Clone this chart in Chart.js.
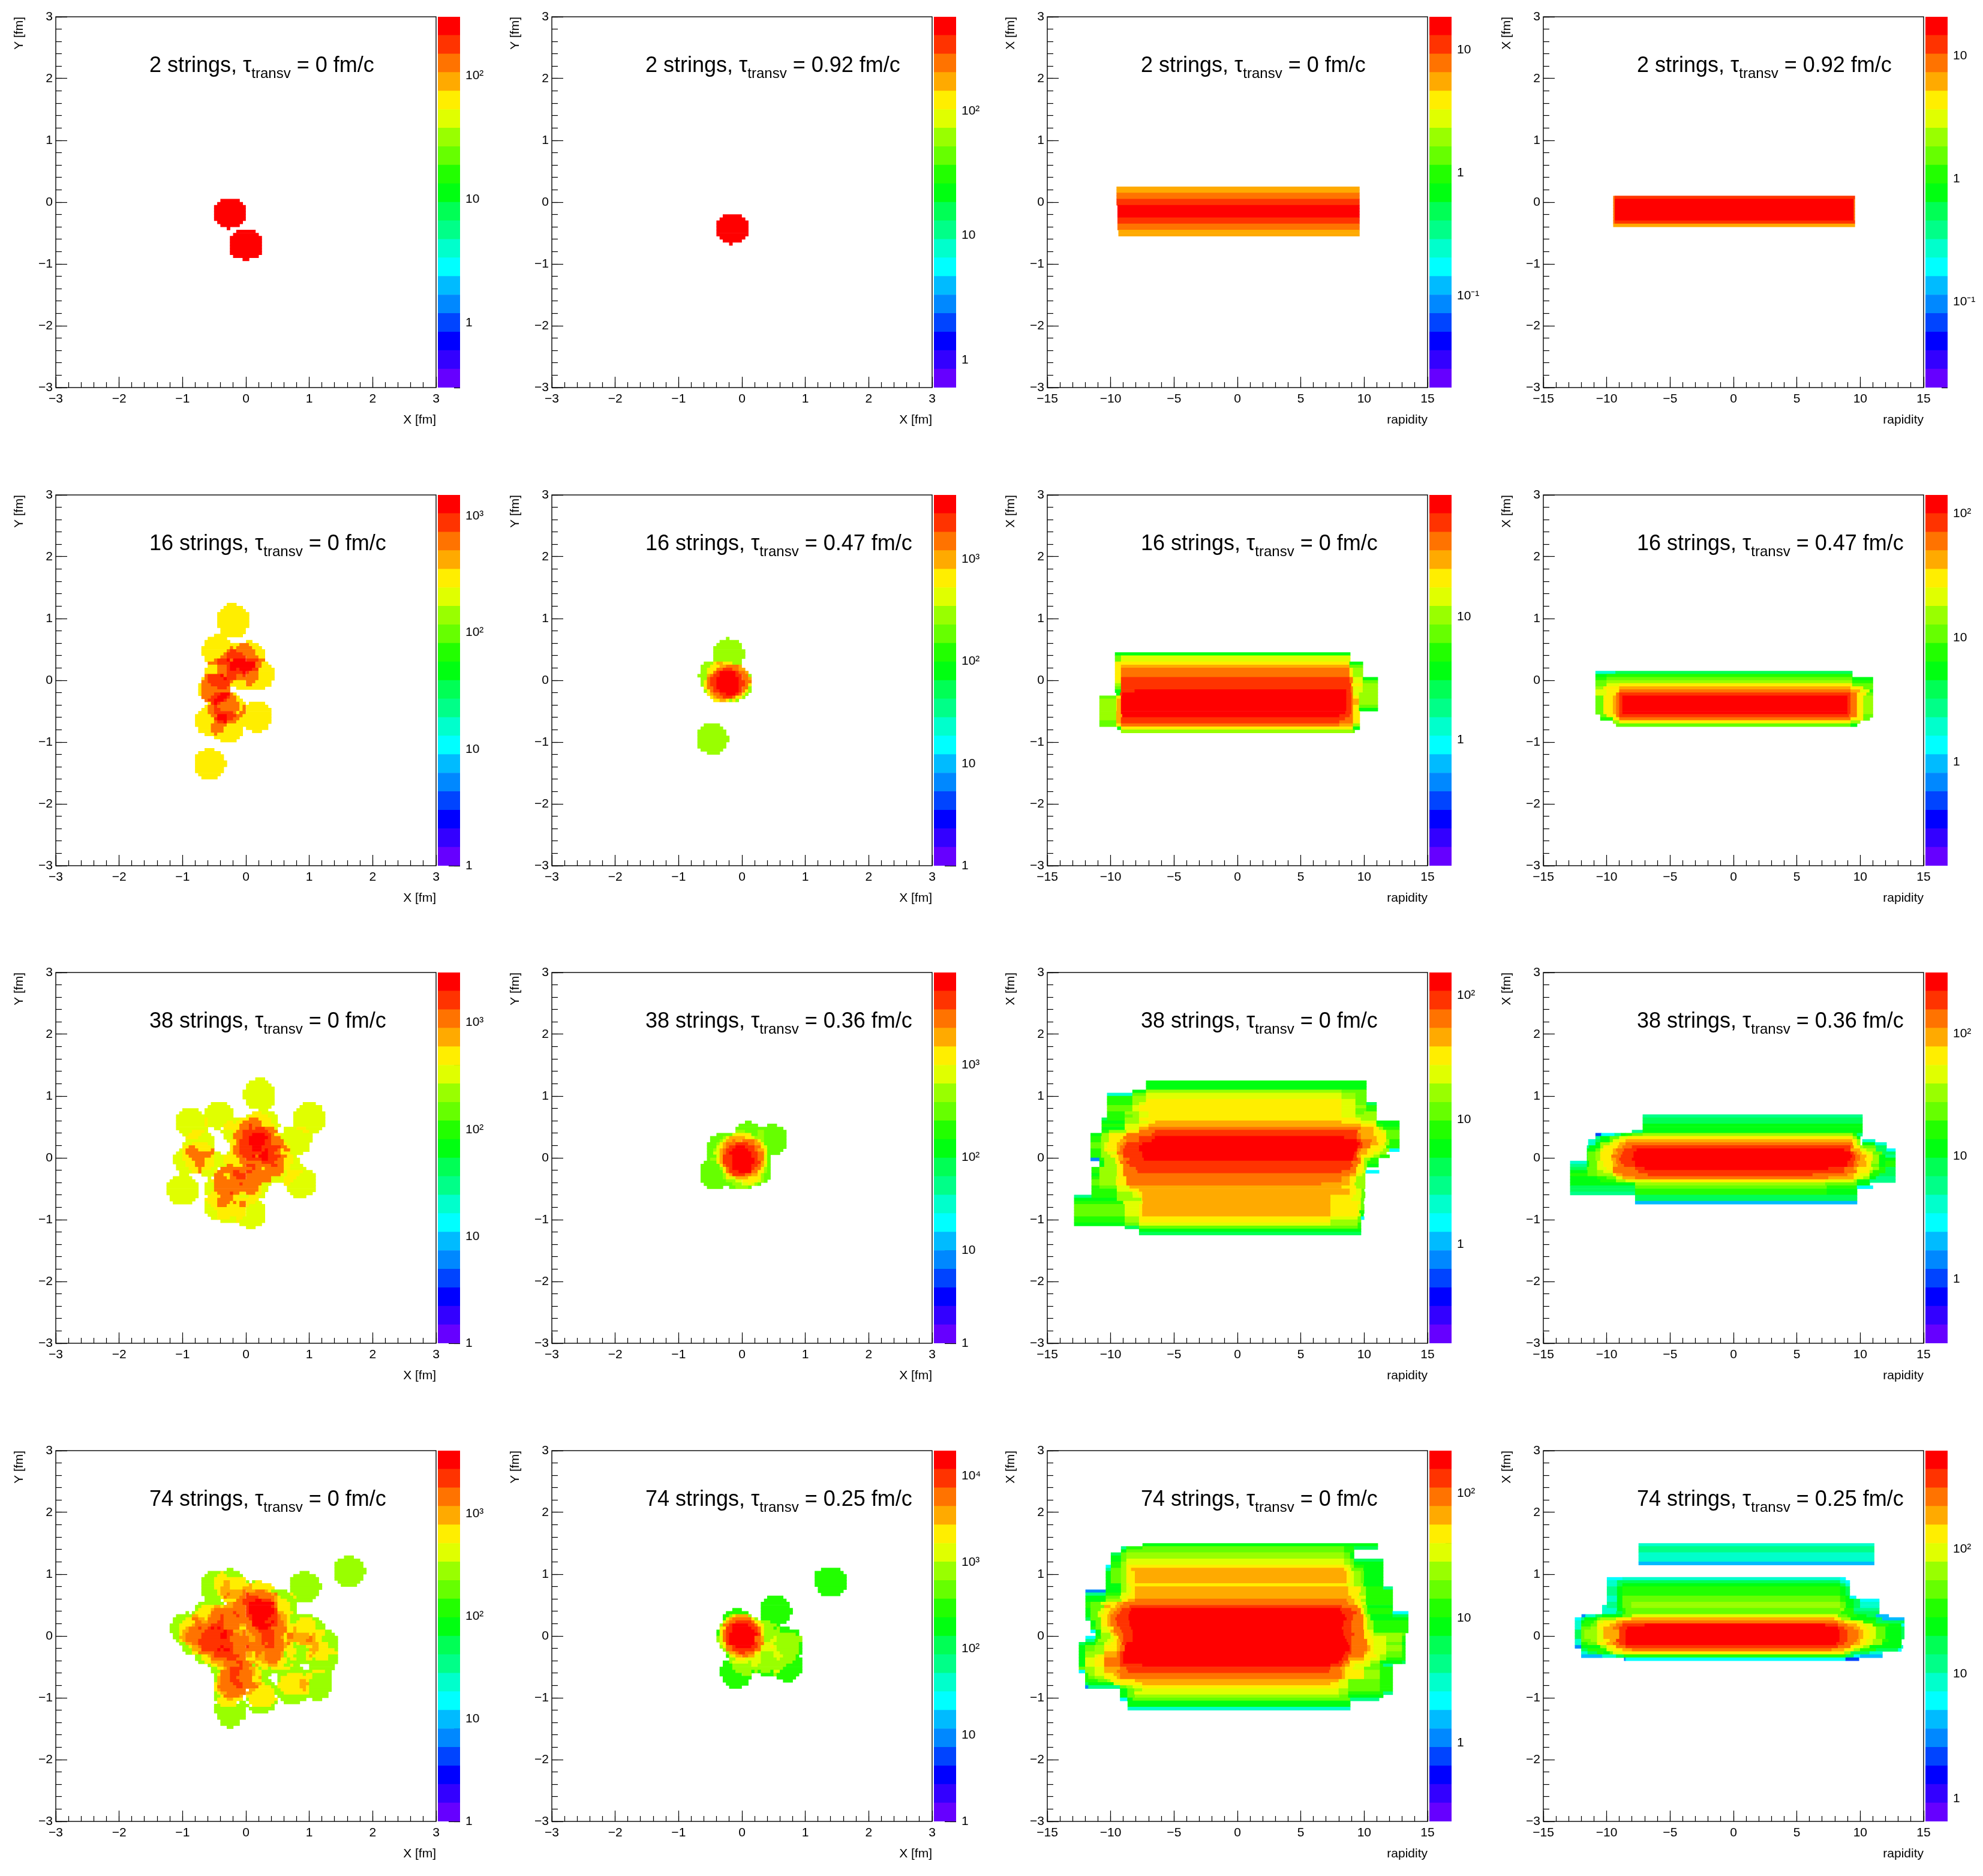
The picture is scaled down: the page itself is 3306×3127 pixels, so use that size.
<!DOCTYPE html>
<html lang="en">
<head>
<meta charset="UTF-8">
<title>Strings</title>
<script src="https://cdn.jsdelivr.net/npm/chart.js"></script>
<style>
    body { margin: 0; background: #fff; width: 3306px; height: 3127px; position: relative; overflow: hidden; font-family: "Liberation Sans", sans-serif; }
    .painel { position: absolute; width: 770px; height: 720px; }
    .painel canvas { position: absolute; left: 0; top: 0; }
    .painel canvas.paleta { left: 730px; top: 13px; }
    .titulo { position: absolute; left: 249px; top: 86px; font-size: 36px; line-height: 44px; white-space: nowrap; color: #000; }
    .titulo sub { font-size: 24px; vertical-align: -10px; line-height: 0; }
</style>
</head>
<body>
<script>
// numero de strings e tau_transv de cada painel, linha a linha
const nStrings = [2, 16, 38, 74];
const tauTransv = ["0", "0.92", "0.47", "0.36", "0.25"];
const tauPainel = [[0, 1, 0, 1], [0, 2, 0, 2], [0, 3, 0, 3], [0, 4, 0, 4]];

// eixos
const ticksFm = [-3, -2, -1, 0, 1, 2, 3];
const ticksFmMenor = [-3, -2.8, -2.6, -2.4, -2.2, -2, -1.8, -1.6, -1.4, -1.2, -1, -0.8, -0.6, -0.4, -0.2, 0, 0.2, 0.4, 0.6, 0.8, 1, 1.2, 1.4, 1.6, 1.8, 2, 2.2, 2.4, 2.6, 2.8, 3];
const ticksRap = [-15, -10, -5, 0, 5, 10, 15];
const ticksRapMenor = [-15, -14, -13, -12, -11, -10, -9, -8, -7, -6, -5, -4, -3, -2, -1, 0, 1, 2, 3, 4, 5, 6, 7, 8, 9, 10, 11, 12, 13, 14, 15];

// limites da escala de cor de cada painel
const zMin = [0.3, 0.63, 0.018, 0.02, 1, 1, 0.095, 0.147, 1, 1, 0.16, 0.32, 1, 1, 0.234, 0.66];
const zMax = [298, 573, 18.5, 20.9, 1524, 4260, 98, 142, 2950, 9900, 152, 316, 4100, 19600, 221, 617];

// paleta (de baixo para cima)
const paleta = ["#6600ff", "#3300ff", "#0000ff", "#0044ff", "#0088ff", "#00bbff", "#00ffff", "#00ffcc", "#00ff88", "#00ff55",
    "#00ff11", "#22ff00", "#66ff00", "#99ff00", "#e0ff00", "#ffee00", "#ffaa00", "#ff7300", "#ff3300", "#ff0000"];

// niveis da paleta, _ = celula vazia
const _ = -1, d = 3, B = 4, b = 5, C = 6, c = 7, M = 8, m = 9, E = 10, e = 11, G = 12, g = 13, l = 14, y = 15, a = 16, o = 17, R = 18, r = 19;

// histogramas: [linha inicial, linha final, coluna, nivel, coluna, nivel, ..., coluna final]
const origem = [[0, 0], [0, 0], [0, 0], [0, 0], [44, 35], [46, 46], [0, 51], [0, 57], [32, 34], [49, 48], [0, 35], [0, 46], [36, 34], [52, 38], [0, 30], [0, 30]];

const linhas1 = [[59, 59, 52, r, 58], [60, 60, 51, r, 59], [61, 65, 50, r, 60], [66, 66, 51, r, 59], [67, 67, 52, r, 58], [68, 68, 54, r, 55],
    [69, 69, 57, r, 63], [70, 70, 56, r, 64], [71, 76, 55, r, 65], [77, 77, 56, r, 64], [78, 78, 59, r, 61]];

const linhas2 = [[64, 64, 54, r, 60], [65, 65, 53, r, 61], [66, 70, 52, r, 62], [71, 71, 53, r, 61], [72, 72, 54, r, 60], [73, 73, 56, r, 57]];

const linhas3 = [[55, 56, 21.9, a, 98.5], [57, 58, 21.9, o, 98.5], [59, 60, 21.9, R, 98.5], [61, 64, 22.2, r, 98.5], [65, 66, 22.2, R, 98.5], [67, 68, 22.2, o, 98.5], [69, 70, 22.5, a, 98.5]];

const linhas4 = [[58, 58, 22.1, o, 22.6, R, 98.3], [59, 65, 22.1, o, 22.6, r, 98, o, 98.3], [66, 66, 22.1, o, 22.6, R, 98.3], [67, 67, 22.1, a, 98.3]];

const linhas5 = [[0, 0, 10, y, 13], [1, 1, 9, y, 15], [2, 2, 8, y, 16], [3, 7, 7, y, 17], [8, 9, 8, y, 16], [10, 10, 6, y, 15], [11, 11, 4, y, 10],
    [12, 12, 3, y, 11, _, 16, y, 18], [13, 13, 3, y, 14, o, 17, y, 20], [14, 14, 2, y, 11, o, 12, y, 13, o, 18, y, 21], [15, 15, 2, y, 10, o, 11, R, 13, o, 19, y, 22],
    [16, 16, 2, y, 9, o, 10, R, 15, o, 19, y, 22], [17, 17, 3, y, 8, o, 10, R, 16, o, 20, y, 22], [18, 18, 3, y, 6, o, 7, R, 10, r, 11, o, 12, r, 16, R, 20, o, 22],
    [19, 19, 4, o, 7, R, 11, r, 19, o, 21, y, 23], [20, 20, 4, y, 7, o, 10, R, 11, r, 19, o, 21, y, 24], [21, 21, 3, y, 7, o, 10, R, 11, r, 13, R, 14, r, 18, R, 20, y, 25],
    [22, 22, 3, y, 7, o, 10, R, 15, r, 16, R, 17, o, 20, y, 25], [23, 23, 3, o, 4, R, 8, r, 9, o, 10, R, 13, o, 15, R, 16, o, 20, y, 25],
    [24, 24, 2, y, 3, o, 4, R, 9, r, 10, R, 13, o, 20, y, 25], [25, 25, 2, o, 4, R, 11, o, 12, y, 16, o, 19, y, 24], [26, 26, 1, y, 2, o, 5, R, 11, y, 16, o, 18, y, 24],
    [27, 27, 1, y, 2, o, 7, R, 10, o, 11, _, 13, y, 22], [28, 28, 1, y, 2, o, 11], [29, 29, 1, y, 2, o, 6, R, 8, r, 11, o, 12, y, 13], [30, 30, 2, o, 5, R, 7, r, 10, R, 11, o, 13, y, 14],
    [31, 31, 3, o, 4, R, 6, r, 9, R, 10, o, 13, y, 15], [32, 32, 4, y, 5, R, 6, r, 7, R, 8, o, 14, y, 16, _, 17, y, 22], [33, 33, 3, y, 4, o, 6, R, 7, o, 14, y, 15, o, 16, y, 23],
    [34, 34, 2, y, 4, o, 6, R, 8, o, 14, y, 15, o, 16, y, 24], [35, 35, 1, y, 4, o, 6, R, 12, o, 13, y, 14, o, 16, y, 24], [36, 36, 0, y, 5, o, 7, r, 10, R, 13, o, 15, y, 24],
    [37, 37, 0, y, 6, R, 7, r, 10, R, 12, o, 14, y, 24], [38, 38, 0, y, 6, o, 7, R, 9, r, 10, o, 13, y, 24], [39, 39, 0, y, 5, o, 10, y, 23], [40, 40, 1, y, 5, o, 9, y, 15, _, 16, y, 23],
    [41, 41, 1, y, 5, o, 9, y, 15, _, 18, y, 21], [42, 42, 3, y, 6, o, 7, y, 15], [43, 43, 6, y, 14], [44, 44, 8, y, 13],
    [47, 47, 3, y, 6], [48, 48, 1, y, 8], [49, 50, 0, y, 9], [51, 52, 0, y, 10], [53, 54, 0, y, 9], [55, 55, 1, y, 8], [56, 56, 2, y, 7]];

const linhas6 = [[0, 0, 9, g, 10], [1, 1, 7, g, 13], [2, 2, 6, g, 14], [3, 3, 5, g, 14], [4, 6, 5, g, 15], [7, 7, 5, g, 14],
    [8, 8, 2, g, 5, y, 6, a, 8, y, 11, g, 14], [9, 9, 1, g, 4, y, 7, a, 9, o, 13, a, 14], [10, 10, 1, g, 3, y, 6, o, 8, R, 11, o, 13, a, 15],
    [11, 11, 1, g, 3, y, 5, o, 6, R, 7, r, 12, R, 13, o, 15, a, 16], [12, 12, 0, g, 3, a, 4, o, 5, R, 7, r, 12, R, 14, o, 16, g, 17],
    [13, 13, 1, g, 3, o, 4, R, 6, r, 13, R, 14, o, 16, a, 17], [14, 14, 1, g, 2, y, 3, o, 4, R, 6, r, 13, R, 15, o, 17], [15, 15, 1, g, 2, y, 3, o, 4, R, 6, r, 13, R, 15, o, 16, y, 17],
    [16, 16, 2, y, 3, o, 5, R, 6, r, 13, R, 14, o, 16, g, 17], [17, 17, 2, g, 3, y, 4, o, 5, R, 7, r, 13, R, 14, o, 15, y, 16, g, 17],
    [18, 18, 3, y, 4, a, 5, o, 7, R, 9, r, 12, R, 13, o, 14, y, 15, g, 16], [19, 19, 4, y, 5, a, 6, o, 8, R, 11, o, 12, y, 14, g, 15], [20, 20, 5, y, 7, a, 9, y, 10, g, 11, y, 12, g, 13],
    [28, 28, 2, g, 7], [29, 29, 1, g, 8], [30, 31, 0, g, 9], [32, 33, 0, g, 10], [34, 35, 0, g, 9], [36, 36, 1, g, 8], [37, 37, 3, g, 7]];

const linhas7 = [[0, 0, 21.4, E, 95.6], [1, 2, 21.4, G, 23.3, l, 95.6], [3, 3, 21.4, y, 95.4, E, 99.6], [4, 4, 21.4, y, 23.3, a, 95.4, G, 99.6],
    [5, 7, 21.4, y, 23.3, o, 95.4, y, 96.5, g, 99.6], [8, 8, 21.4, y, 23.3, R, 95.4, o, 96.5, l, 99.6, E, 104.3], [9, 9, 21.4, l, 23.3, R, 95.4, o, 96.5, l, 99.6, G, 104.3],
    [10, 10, 21.4, g, 23.3, R, 96, y, 99.6, g, 104.3], [11, 11, 21.4, G, 23.3, R, 95.8, o, 96.5, l, 99.6, g, 104.3], [12, 12, 21.4, E, 23.3, R, 27.6, r, 94.4, R, 95.8, o, 96.5, l, 99.6, g, 104.3],
    [13, 13, 21.8, E, 23, R, 23.7, r, 94.4, R, 96, o, 96.5, l, 98.4, g, 104.3], [14, 14, 16.5, G, 21.8, y, 23.3, r, 94.4, R, 96, o, 96.5, y, 98.4, g, 104.3],
    [15, 16, 16.5, g, 21.8, y, 22, a, 23.3, r, 94.4, R, 96, o, 96.5, a, 98.4, g, 104.3], [17, 17, 16.5, g, 21.8, y, 22, a, 23.3, r, 94.4, R, 96, o, 96.5, y, 98.4, G, 104.3],
    [18, 18, 16.5, g, 21.8, y, 22, a, 23.3, r, 94.4, R, 96, o, 96.5, y, 98.4, E, 104.3], [19, 19, 16.5, g, 21.8, a, 23.3, r, 94.1, R, 96, o, 96.5, y, 98.6],
    [20, 20, 16.5, g, 21.8, a, 23.7, r, 92.2, R, 95.5, o, 96.5, y, 98.6], [21, 21, 16.5, g, 21.8, a, 23.3, R, 94, o, 96.5, y, 98.6], [22, 22, 16.5, G, 21.8, a, 23.3, R, 92.2, o, 96.5, y, 98.6],
    [23, 23, 16.5, G, 21.8, y, 23.3, o, 92.2, a, 96.5, g, 98.6], [24, 24, 22.1, E, 23.3, y, 96.5, E, 98.6], [25, 25, 23.3, g, 96.5, G, 97]];

const linhas8 = [[0, 0, 16.5, c, 22.8, m, 97.5], [1, 1, 16.5, E, 20, e, 97.5], [2, 2, 16.5, e, 20, G, 97.5, E, 104], [3, 3, 16.5, G, 20, g, 97.5, e, 104],
    [4, 4, 16.5, G, 20, l, 24, y, 97.5, G, 104], [5, 5, 16.5, g, 19, y, 24, a, 97, y, 101, G, 104], [6, 6, 16.5, l, 20, y, 24, o, 97, a, 100, l, 103, e, 104],
    [7, 7, 16.5, l, 20, y, 23, o, 24, R, 97, o, 99, y, 102, G, 104], [8, 13, 16.5, G, 19, y, 22, a, 23, o, 24, R, 25, r, 96, R, 97, o, 99, y, 101, g, 104],
    [14, 14, 18, G, 20, y, 23, o, 24, R, 96.5, o, 99, y, 101, G, 104], [15, 15, 18, e, 22, y, 24, o, 97, y, 101, G, 103], [16, 16, 22, g, 24, y, 97, g, 100], [17, 17, 23, G, 97, E, 99]];

const linhas9 = [[0, 0, 31, l, 34], [1, 1, 29, l, 35], [2, 2, 28, l, 36], [3, 3, 28, l, 37], [4, 6, 27, l, 37], [7, 7, 28, l, 37], [8, 8, 17, l, 22, _, 28, l, 37, _, 46, l, 50],
    [9, 9, 16, l, 23, _, 29, l, 36, _, 45, l, 52], [10, 10, 8, l, 13, _, 15, l, 24, _, 32, l, 35, _, 44, l, 52], [11, 11, 7, l, 14, _, 15, l, 24, _, 30, y, 33, l, 37, _, 43, l, 53],
    [12, 12, 6, l, 24, _, 28, l, 29, y, 35, l, 38, _, 43, l, 53], [13, 13, 6, l, 15, y, 16, l, 26, y, 29, o, 32, y, 36, l, 38, _, 43, l, 53],
    [14, 14, 6, l, 15, y, 16, l, 22, y, 24, l, 25, y, 27, o, 33, y, 36, l, 38, _, 43, l, 53], [15, 15, 6, l, 15, y, 16, l, 21, y, 26, o, 29, R, 30, o, 33, y, 37, l, 39, _, 43, l, 53],
    [16, 16, 6, l, 16, _, 18, l, 20, _, 21, y, 26, o, 29, R, 30, o, 31, R, 34, o, 37, l, 38, _, 40, l, 44, y, 47, l, 52],
    [17, 17, 7, l, 11, y, 15, l, 16, _, 20, l, 24, y, 25, o, 27, R, 35, o, 38, _, 40, l, 46, y, 48, l, 51],
    [18, 18, 8, l, 10, y, 14, l, 17, _, 21, l, 24, o, 27, R, 30, r, 34, R, 36, o, 37, y, 39, l, 49], [19, 19, 9, y, 13, l, 18, _, 21, l, 24, o, 27, R, 29, r, 35, R, 36, o, 39, l, 49],
    [20, 20, 9, l, 18, _, 22, l, 23, y, 25, o, 26, R, 29, r, 34, R, 36, o, 40, l, 49], [21, 21, 8, l, 11, y, 16, l, 18, _, 23, y, 25, o, 26, R, 29, r, 34, R, 36, o, 40, y, 41, l, 48],
    [22, 22, 8, y, 10, o, 12, y, 17, l, 18, _, 23, y, 24, o, 26, R, 30, r, 33, R, 39, o, 41, y, 42, l, 48],
    [23, 23, 7, l, 8, y, 9, o, 13, y, 17, o, 18, _, 23, y, 24, o, 26, R, 30, r, 33, R, 34, r, 35, R, 38, o, 39, y, 40, o, 42, l, 48],
    [24, 24, 6, l, 8, y, 9, o, 18, l, 20, _, 22, l, 23, y, 24, o, 26, R, 33, r, 35, R, 37, o, 39, y, 42, l, 46],
    [25, 25, 5, l, 8, y, 10, o, 17, y, 18, l, 21, y, 25, o, 27, R, 30, r, 31, o, 32, r, 35, R, 39, o, 41, y, 43, l, 44],
    [26, 26, 5, l, 8, y, 11, o, 15, y, 18, l, 21, y, 26, o, 28, R, 33, r, 35, R, 38, o, 40, y, 43, l, 45], [27, 27, 5, l, 9, y, 12, o, 15, y, 18, l, 21, y, 26, o, 33, R, 37, o, 40, y, 43, l, 45],
    [28, 28, 6, l, 9, y, 12, o, 15, y, 18, l, 22, o, 24, y, 27, o, 28, R, 31, o, 36, R, 38, o, 40, y, 42, l, 46],
    [29, 29, 6, l, 10, y, 13, o, 14, y, 17, l, 19, _, 20, o, 30, R, 31, o, 33, y, 34, o, 40, y, 42, l, 47],
    [30, 30, 7, l, 11, y, 13, o, 14, l, 18, y, 19, o, 24, R, 26, o, 28, R, 30, o, 40, l, 41, y, 46, l, 49],
    [31, 31, 7, l, 10, _, 14, l, 18, o, 21, y, 23, o, 24, R, 28, o, 39, y, 40, l, 41, y, 45, l, 50], [32, 32, 5, l, 11, _, 16, l, 17, _, 18, o, 22, y, 23, o, 25, R, 28, o, 36, l, 40, y, 44, l, 50],
    [33, 33, 4, l, 12, _, 16, l, 17, y, 18, o, 36, l, 40, y, 43, l, 50], [34, 34, 3, l, 13, _, 15, l, 18, o, 26, R, 27, o, 33, l, 36, _, 40, y, 42, l, 50],
    [35, 36, 3, l, 13, _, 15, l, 18, o, 32, y, 33, l, 35, _, 41, l, 50], [37, 37, 3, l, 13, _, 15, l, 17, y, 19, o, 23, R, 24, o, 26, y, 28, o, 31, y, 33, l, 34, _, 42, l, 49],
    [38, 38, 4, l, 13, _, 16, y, 20, o, 24, y, 26, l, 29, y, 32, l, 34, _, 43, l, 47], [39, 39, 4, l, 12, _, 15, y, 19, o, 24, y, 32],
    [40, 40, 5, l, 11, _, 15, l, 16, y, 19, o, 23, y, 24, o, 25, y, 26, o, 28, y, 31, l, 33], [41, 41, 15, l, 17, y, 19, o, 22, y, 26, o, 28, y, 29, l, 34],
    [42, 42, 15, l, 18, y, 28, l, 34], [43, 43, 15, l, 19, y, 28, l, 34], [44, 44, 16, l, 19, y, 28, l, 34], [45, 45, 17, l, 19, y, 23, l, 25, y, 27, l, 34],
    [46, 46, 20, l, 25, y, 26, l, 34], [47, 47, 26, l, 33], [48, 48, 28, l, 31]];

const linhas10 = [[0, 0, 12, G, 14], [1, 1, 10, G, 16, _, 19, G, 22], [2, 2, 9, G, 24], [3, 3, 9, g, 12, G, 16, g, 18, G, 25], [4, 4, 3, G, 8, l, 9, y, 14, G, 16, g, 18, G, 25],
    [5, 5, 1, G, 5, g, 6, y, 7, a, 12, y, 14, l, 15, g, 18, G, 25], [6, 6, 1, G, 4, g, 5, l, 6, a, 8, o, 9, a, 11, o, 15, a, 16, y, 17, g, 18, G, 25],
    [7, 7, 0, G, 3, g, 4, y, 5, a, 6, o, 9, R, 13, o, 15, a, 17, y, 18, G, 25], [8, 8, 0, G, 3, l, 4, y, 5, a, 6, o, 7, R, 9, r, 12, R, 15, o, 17, y, 18, l, 19, G, 25],
    [9, 9, 0, G, 2, g, 3, l, 4, a, 5, o, 6, R, 8, r, 13, R, 15, o, 16, a, 18, y, 19, G, 24], [10, 10, 0, G, 2, l, 4, a, 5, o, 6, R, 7, r, 14, R, 16, o, 18, y, 19, G, 23],
    [11, 11, 0, G, 3, l, 4, a, 5, R, 8, r, 14, R, 16, o, 18, l, 19, G, 20], [12, 12, 0, G, 1, g, 3, y, 4, a, 5, R, 8, r, 15, R, 16, o, 18, l, 19, G, 20],
    [13, 13, -1, G, 3, y, 4, a, 5, R, 8, r, 15, R, 17, a, 18, y, 19, G, 20], [14, 14, -2, G, 4, y, 5, o, 6, R, 8, r, 14, R, 16, o, 17, a, 18, l, 19, G, 20],
    [15, 15, -2, G, 4, g, 5, y, 6, o, 7, R, 8, r, 14, R, 15, o, 17, y, 18, g, 19, G, 20], [16, 16, -2, G, 5, y, 6, o, 7, R, 10, r, 14, o, 16, y, 18, g, 19, G, 20],
    [17, 17, -2, G, 5, g, 6, y, 7, a, 8, R, 12, o, 14, a, 16, y, 17, g, 18, G, 20], [18, 18, -2, G, 5, g, 6, y, 7, l, 9, a, 13, y, 17, g, 18, G, 20],
    [19, 19, -2, G, 6, g, 9, l, 11, y, 16, l, 17, g, 18, G, 19], [20, 20, -1, G, 8, g, 11, l, 13, y, 14, l, 15, g, 16, G, 17], [21, 21, 0, G, 5, _, 7, G, 9, g, 13, G, 14]];

const linhas11 = [[0, 2, 31.2, E, 100.7], [3, 3, 26.9, E, 31.2, g, 92.9, G, 100.7], [4, 4, 18.9, c, 26.9, G, 31.2, l, 92.9, g, 97.3, G, 100.7], [5, 5, 18.9, e, 26.9, g, 31.2, l, 92.9, g, 97.3, G, 100.7],
    [6, 6, 18.9, e, 26.9, g, 31.2, y, 92.9, l, 97.3, G, 100.7], [7, 7, 18.9, e, 26.9, g, 29, l, 31, y, 92.9, l, 97.3, G, 100.7, m, 103.9], [8, 8, 18.9, G, 26.9, l, 29, y, 92.9, l, 97.3, g, 100.7, e, 103.9],
    [9, 9, 18.9, G, 26.9, l, 29, y, 92.9, l, 97.3, G, 100.7, e, 103.9], [10, 10, 18.9, e, 24.5, g, 29, l, 32, y, 92.9, l, 97.3, G, 100, g, 103.9], [11, 11, 18.9, e, 24.5, G, 27, g, 29, l, 32, y, 92.9, l, 97.3, g, 103.9],
    [12, 12, 17.2, m, 18.9, e, 24.5, g, 29, y, 97.3, l, 99, g, 103.9], [13, 13, 17.2, E, 24.5, g, 29, l, 32, y, 34.1, a, 92.9, y, 99, l, 103.9, E, 111.1], [14, 14, 17.2, e, 24.5, l, 29, y, 32, a, 99, y, 103.9, e, 106, E, 111.1],
    [15, 15, 17.2, E, 24.5, l, 29, a, 32, o, 99, a, 103, y, 104.7, g, 106, e, 111.1], [16, 16, 17.2, e, 19.5, g, 25, y, 29, o, 34, R, 98, a, 103, y, 105.5, l, 107, G, 111.1],
    [17, 17, 13.7, E, 17.2, g, 19.5, y, 25, o, 33, R, 97.7, o, 99, a, 103, y, 107, G, 111.1], [18, 18, 13.7, e, 17, g, 19.5, y, 24, o, 29, R, 34, r, 93.7, R, 97.7, o, 99, a, 104, y, 107, G, 111.1],
    [19, 19, 13.7, e, 17, g, 19.5, y, 23, a, 25, o, 29, R, 33, r, 97.7, R, 99, o, 102.5, a, 104, y, 107, g, 108, e, 111.1], [20, 20, 13.7, G, 17, g, 18, l, 19, y, 22, a, 24, o, 25, R, 30, r, 98.7, R, 99.5, o, 102, a, 104.5, y, 106.5, g, 108, e, 111.1],
    [21, 21, 13.7, G, 17, g, 18, l, 19, y, 22, a, 23, o, 24.5, R, 29, r, 98, R, 99.5, o, 102, y, 105, l, 107, e, 111.1], [22, 22, 13.7, e, 17, g, 18, y, 22, a, 23, o, 24, R, 29, r, 97.7, R, 98, o, 99, a, 101, y, 105, l, 106, g, 108, C, 111.1],
    [23, 23, 13.7, e, 17, g, 19, l, 22, o, 24, R, 30, r, 97, R, 97.7, o, 98.5, a, 101, y, 103, l, 105, g, 107], [24, 24, 13.7, e, 17, g, 20, y, 22.5, a, 24, R, 30, r, 96.7, R, 97.7, a, 99, y, 102, l, 103, g, 105, e, 108],
    [25, 25, 13.7, B, 16.5, e, 18, g, 21.5, y, 22.5, a, 24, o, 26, R, 30.5, r, 96.5, R, 98, o, 99, y, 100, g, 102, e, 104.5], [26, 26, 16.5, E, 18, g, 21.5, y, 23, o, 25, R, 96, o, 99, y, 100, g, 101, e, 104.5],
    [27, 27, 16.5, E, 18, g, 22, y, 24, o, 26, R, 96.5, o, 98, y, 100, g, 101, E, 104.5], [28, 28, 14, e, 16.5, g, 22, y, 24, o, 28, R, 95.7, o, 97.5, y, 100, g, 100.7], [29, 29, 14, e, 16.5, g, 22, y, 24, o, 28.5, R, 92.9, o, 97.5, y, 99.5, l, 100.5, C, 104.7],
    [30, 30, 14, E, 16.5, g, 22, y, 24, o, 95.5, a, 97.5, l, 99.5, g, 100.3], [31, 31, 14, e, 16.5, g, 21.7, l, 22.5, y, 25, o, 92.9, a, 95.5, y, 97.5, g, 100.3], [32, 32, 14, G, 16.5, g, 21.7, y, 25, o, 92.9, a, 95.5, y, 97.5, g, 100.3],
    [33, 33, 14, G, 16.5, g, 21.7, y, 25, o, 86.5, a, 95.5, y, 97, g, 100.3], [34, 34, 14, e, 16.5, G, 22, l, 26, a, 92.9, y, 97.5, g, 100.3], [35, 35, 14, e, 22, l, 26, y, 29, a, 95.5, y, 97.5, l, 99.2, G, 100],
    [36, 36, 14, e, 22, g, 26.9, l, 28.5, y, 30, a, 95.5, y, 97.5, l, 99.2, G, 100.3], [37, 37, 8.5, M, 14, e, 22, g, 27, l, 29, y, 30, a, 89.4, y, 96.6, l, 99.2, G, 100.3], [38, 38, 8.5, E, 22, g, 29.8, y, 30, a, 89.4, y, 96, l, 99, G, 100],
    [39, 39, 8.5, e, 24, l, 30, y, 30.2, a, 89.4, y, 99, G, 99.8], [40, 41, 8.5, G, 24.5, l, 29, y, 30, a, 89.4, y, 98, l, 99, G, 100], [42, 42, 8.5, G, 24.5, l, 29, y, 30, a, 89.4, y, 98.5, e, 100], [43, 43, 8.5, G, 24.5, l, 29, y, 30, a, 89.4, y, 98, l, 99, E, 99.8],
    [44, 44, 8.5, e, 24.5, g, 29, y, 89.4, l, 98, G, 99, C, 100], [45, 45, 8.5, e, 24.5, g, 29, y, 89.4, g, 98, G, 99], [46, 46, 8.5, E, 24.5, G, 29, l, 89.4, g, 98, e, 99], [47, 47, 24.5, m, 29, G, 98, e, 99], [48, 48, 29, E, 99], [49, 49, 29, m, 99]];

const linhas12 = [[0, 0, 31.4, M, 100.7], [1, 2, 31.4, m, 100.7], [3, 4, 31.4, E, 100.7], [5, 5, 28, M, 31.4, E, 100.7], [6, 6, 16.5, d, 18.3, C, 22.5, M, 24.5, E, 26, e, 28, G, 31.4, g, 97.7, e, 99, M, 100.7],
    [7, 7, 16.5, M, 18, E, 21, G, 24, l, 26.7, y, 97.7, g, 99, E, 100], [8, 8, 14.2, c, 16.5, m, 18, E, 21, G, 22, l, 24, y, 26, a, 97.5, y, 99, g, 100, _, 100.7, c, 104.7], [9, 9, 14.2, c, 16.5, E, 18, g, 21, l, 22, y, 24, a, 26, o, 97.7, y, 99, g, 100, _, 100.7, E, 104.7, c, 108.3],
    [10, 10, 13.8, M, 14.5, E, 18, g, 19, y, 23.5, a, 25, o, 28, R, 97, o, 98, y, 100, g, 101, G, 105, m, 108.3], [11, 11, 13.8, E, 16.5, G, 18, l, 19, y, 22, a, 23, o, 25.5, R, 29.5, r, 95, R, 97, a, 100, l, 102, g, 105, m, 108.3, C, 111.1],
    [12, 12, 13.8, E, 14, G, 16.5, g, 18, y, 22, a, 23.5, o, 25, R, 28.5, r, 97, R, 98, o, 99, a, 100.5, y, 102, l, 104, G, 107, m, 111.1], [13, 13, 13.8, E, 14, G, 16.5, g, 18, y, 21.5, o, 24.5, R, 28.5, r, 97.5, R, 98.5, o, 100, a, 102, y, 104, g, 106, E, 108, M, 111.1],
    [14, 14, 13.8, E, 14, G, 16.5, g, 18, y, 21.5, a, 23, o, 24, R, 28, r, 97, R, 98.5, o, 100, a, 101.5, y, 104, g, 106, E, 111.1], [15, 15, 8.5, c, 13.8, E, 14.5, G, 17, l, 19, y, 22, a, 23, o, 24.5, R, 29, r, 96, R, 98, o, 99, a, 102, y, 103.5, g, 106, E, 108, e, 111.1],
    [16, 16, 8.5, M, 13.8, E, 14.5, G, 17, l, 19, y, 22, a, 23.5, o, 25.5, R, 29, r, 96, R, 98, o, 99.5, a, 102, y, 103.5, G, 106, E, 108, e, 111.1], [17, 17, 8.5, m, 13.8, G, 17, l, 20, y, 22, o, 29, R, 32, r, 90, R, 95, o, 98, a, 99, y, 103, l, 104, g, 106, e, 108, m, 111.1],
    [18, 18, 8.5, E, 14, G, 17, g, 19, l, 22, o, 30, R, 95, o, 99, y, 103, g, 104, e, 108, m, 111.1], [19, 19, 8.5, e, 14, G, 17, g, 22, y, 23, a, 25, o, 33, R, 85, o, 96, a, 98, y, 100, l, 103, e, 106, m, 111.1], [20, 20, 8.5, E, 17, e, 20, G, 23, l, 25, a, 29, o, 90, a, 98, y, 99, l, 101, g, 103, E, 105, M, 111.1],
    [21, 21, 8.5, E, 18, e, 23, g, 26, l, 34, y, 89, l, 98, g, 99, E, 103, M, 111.1], [22, 22, 8.5, E, 29, g, 89, G, 99, E, 103], [23, 23, 8.5, m, 29, G, 89.5, e, 99, C, 104], [24, 24, 8.5, m, 29, e, 89.5, E, 99], [25, 25, 8.5, M, 29, e, 89.5, E, 99], [26, 27, 29, m, 99], [28, 28, 29, b, 99]];

const linhas13 = [[0, 0, 55, g, 58], [1, 1, 53, g, 60], [2, 3, 52, g, 61], [4, 4, 18, g, 20, _, 52, g, 62], [5, 5, 12, g, 16, y, 17, g, 22, _, 41, g, 44, _, 52, g, 62], [6, 6, 11, g, 15, y, 18, g, 23, _, 39, g, 46, _, 52, g, 61],
    [7, 7, 10, g, 14, y, 24, _, 38, g, 47, _, 52, g, 61], [8, 8, 10, g, 14, y, 17, a, 19, y, 24, g, 25, _, 26, g, 27, y, 29, _, 38, g, 47, _, 53, g, 60], [9, 9, 10, g, 14, y, 17, a, 19, y, 25, a, 26, y, 32, _, 38, g, 48, _, 54, g, 59],
    [10, 10, 10, g, 14, y, 16, a, 19, y, 23, a, 26, y, 33, _, 38, g, 48], [11, 11, 10, g, 15, y, 16, a, 23, o, 24, a, 27, o, 30, a, 31, y, 32, g, 37, _, 38, g, 47], [12, 12, 10, g, 15, y, 16, a, 18, o, 19, a, 23, o, 24, R, 25, o, 32, a, 33, o, 34, g, 38, y, 39, g, 47],
    [13, 13, 11, g, 16, y, 17, o, 18, a, 22, o, 24, R, 28, o, 33, a, 34, y, 35, g, 39, y, 40, g, 46], [14, 14, 11, g, 16, _, 17, y, 21, o, 23, R, 27, r, 29, R, 32, o, 33, a, 34, y, 37, g, 45], [15, 15, 9, g, 17, _, 18, a, 20, o, 23, R, 25, r, 33, o, 34, y, 38, g, 40],
    [16, 16, 8, g, 10, y, 14, a, 16, y, 17, a, 20, o, 24, R, 25, r, 32, R, 33, o, 34, y, 38, g, 40], [17, 17, 8, g, 9, y, 13, a, 14, o, 24, R, 25, r, 33, R, 34, y, 38, g, 40], [18, 18, 5, g, 6, _, 7, g, 8, y, 13, o, 20, R, 21, o, 24, R, 25, r, 33, R, 34, a, 36, y, 39, g, 40],
    [19, 19, 2, g, 7, a, 9, y, 12, a, 13, o, 16, R, 17, o, 21, R, 22, o, 24, R, 26, r, 32, R, 34, o, 35, a, 37, y, 38, g, 45], [20, 20, 1, g, 5, y, 7, o, 9, a, 11, y, 12, o, 16, R, 17, o, 25, R, 26, r, 31, R, 34, o, 35, a, 37, y, 38, g, 41, y, 45, g, 47],
    [21, 21, 1, g, 4, y, 8, o, 10, a, 12, o, 15, R, 17, o, 26, r, 30, R, 32, r, 33, R, 34, o, 36, a, 37, y, 38, g, 40, y, 46, g, 48], [22, 22, 0, g, 3, y, 7, a, 8, o, 13, R, 17, o, 22, a, 24, o, 26, r, 32, R, 34, o, 36, a, 37, y, 46, g, 49],
    [23, 23, 0, g, 3, y, 5, a, 6, o, 9, R, 10, o, 12, R, 13, r, 14, R, 15, r, 16, R, 17, o, 22, y, 24, o, 27, R, 28, r, 31, R, 32, o, 37, y, 39, a, 40, y, 46, g, 49], [24, 24, 0, g, 3, y, 4, a, 6, o, 11, R, 17, r, 18, R, 20, a, 23, o, 24, a, 25, o, 28, R, 33, o, 37, y, 39, a, 40, y, 49, g, 51],
    [25, 25, 1, g, 3, y, 4, a, 5, o, 10, R, 16, r, 18, R, 20, o, 22, a, 23, o, 24, a, 26, o, 29, R, 33, o, 36, y, 37, o, 39, a, 44, y, 45, a, 46, y, 49, g, 52], [26, 26, 1, g, 3, a, 5, o, 10, R, 16, r, 18, R, 19, o, 25, a, 27, o, 29, R, 33, o, 35, a, 36, y, 37, o, 39, a, 44, o, 45, a, 46, y, 48, g, 53],
    [27, 27, 2, g, 3, y, 4, a, 5, o, 9, R, 19, o, 25, a, 27, o, 29, R, 33, o, 36, y, 37, a, 43, o, 45, a, 46, y, 48, g, 53], [28, 28, 3, g, 5, a, 7, o, 9, R, 20, o, 29, R, 30, o, 31, R, 33, o, 36, a, 37, o, 38, y, 39, g, 40, y, 41, a, 47, y, 50, g, 53],
    [29, 29, 4, g, 6, y, 7, a, 9, o, 10, R, 16, r, 17, R, 20, o, 24, R, 25, o, 30, R, 33, o, 36, a, 37, y, 39, g, 43, y, 45, a, 47, y, 50, g, 53], [30, 30, 4, g, 7, a, 10, R, 15, r, 16, R, 17, r, 19, R, 20, o, 36, y, 40, g, 44, a, 47, y, 52, g, 53],
    [31, 31, 5, g, 7, y, 9, o, 14, R, 20, o, 24, a, 26, y, 27, o, 29, a, 30, o, 35, a, 36, g, 37, y, 40, g, 43, y, 45, a, 46, y, 53], [32, 32, 8, g, 10, y, 12, a, 13, o, 14, R, 22, o, 24, a, 26, y, 27, o, 28, a, 30, o, 35, a, 36, g, 37, y, 39, g, 43, y, 44, a, 45, y, 50, g, 53],
    [33, 33, 8, g, 10, y, 13, o, 18, R, 21, o, 24, y, 27, a, 30, o, 35, y, 37, g, 38, y, 40, g, 43, y, 45, g, 46, y, 50, g, 53], [34, 34, 9, g, 11, y, 13, a, 17, o, 21, R, 23, o, 25, a, 27, y, 29, a, 31, o, 34, y, 37, g, 53],
    [35, 35, 12, g, 13, y, 15, a, 17, o, 22, R, 23, o, 26, g, 27, a, 28, y, 31, a, 34, y, 36, g, 38, y, 39, g, 41, _, 44, g, 52], [36, 36, 13, g, 15, y, 17, a, 18, o, 19, R, 23, o, 25, a, 27, y, 28, g, 29, y, 31, g, 32, y, 38, g, 42, _, 44, g, 52],
    [37, 37, 13, g, 16, o, 19, R, 22, o, 26, a, 27, y, 29, g, 45, y, 49, g, 51], [38, 38, 14, g, 15, y, 16, o, 19, R, 22, o, 26, a, 27, y, 29, g, 32, _, 34, g, 37, y, 42, g, 43, y, 45, g, 51], [39, 39, 14, g, 15, a, 16, o, 19, R, 21, o, 26, y, 28, a, 29, g, 31, _, 34, g, 35, y, 45, g, 51],
    [40, 40, 14, g, 15, a, 16, o, 19, R, 22, o, 26, y, 29, g, 32, _, 34, g, 35, y, 41, a, 43, y, 44, g, 51], [41, 41, 14, y, 15, a, 16, o, 20, R, 23, o, 27, a, 29, y, 30, g, 33, _, 34, y, 41, a, 44, g, 51], [42, 42, 14, y, 15, o, 21, R, 23, o, 28, y, 32, g, 34, y, 41, a, 43, y, 44, g, 51],
    [43, 43, 14, y, 15, a, 16, o, 24, _, 25, a, 27, y, 33, g, 35, y, 42, a, 43, y, 44, g, 51], [44, 44, 14, g, 15, y, 16, a, 18, o, 24, a, 26, y, 33, g, 36, y, 44, g, 50], [45, 45, 14, g, 16, y, 17, o, 22, a, 23, _, 24, y, 33, _, 34, g, 50],
    [46, 46, 14, g, 15, y, 18, a, 20, y, 23, _, 24, g, 25, y, 34, _, 35, g, 43, _, 45, g, 48], [47, 47, 15, y, 21, _, 22, g, 24, _, 25, y, 33, g, 34, _, 36, g, 41], [48, 48, 14, g, 16, y, 21, g, 25, _, 26, y, 32, g, 33], [49, 49, 14, g, 24, _, 25, g, 33], [50, 50, 14, g, 24, _, 26, g, 31], [51, 52, 15, g, 24], [53, 54, 16, g, 22], [55, 55, 18, g, 20]];

const linhas14 = [[0, 0, 33, e, 39], [1, 1, 31, e, 40], [2, 5, 31, e, 41], [6, 6, 32, e, 41], [7, 7, 32, e, 40], [8, 8, 33, e, 39], [9, 9, 16, e, 21], [10, 10, 15, e, 22], [11, 12, 14, e, 23], [13, 13, 5, e, 8, _, 14, e, 24],
    [14, 14, 3, e, 10, _, 14, e, 24], [15, 15, 2, e, 4, g, 5, y, 6, a, 10, g, 11, _, 14, e, 23], [16, 16, 2, e, 3, y, 4, a, 5, o, 11, y, 12, g, 13, _, 14, e, 23], [17, 17, 2, l, 3, a, 4, o, 6, R, 11, o, 12, y, 14, g, 17, e, 22],
    [18, 18, 1, g, 2, o, 4, R, 5, r, 10, R, 12, o, 13, y, 15, g, 19, e, 20], [19, 19, 1, y, 3, R, 5, r, 11, R, 13, o, 14, y, 15, g, 18, e, 19, g, 20, e, 23], [20, 20, 0, e, 1, y, 2, o, 3, R, 5, r, 12, R, 13, o, 14, y, 15, g, 20, e, 26],
    [21, 21, 0, e, 1, y, 2, o, 3, R, 4, r, 13, R, 14, y, 15, g, 25, e, 26], [22, 22, 0, g, 1, l, 2, o, 3, R, 4, r, 12, o, 14, a, 15, g, 18, l, 19, g, 27], [23, 23, 0, g, 1, l, 2, o, 3, R, 4, r, 12, o, 14, a, 15, g, 17, l, 19, g, 27],
    [24, 24, 1, l, 2, y, 3, R, 4, r, 12, R, 13, o, 15, l, 18, g, 26, e, 27], [25, 25, 1, g, 2, y, 3, o, 5, R, 6, r, 11, R, 13, o, 14, l, 17, y, 18, l, 19, g, 26, e, 27], [26, 26, 2, g, 3, o, 5, R, 12, o, 14, l, 19, g, 26, e, 27],
    [27, 27, 3, g, 4, a, 6, o, 7, R, 9, o, 12, y, 14, g, 18, l, 20, g, 26, e, 27], [28, 28, 3, e, 4, l, 5, y, 6, a, 8, o, 10, a, 12, l, 14, g, 18, l, 21, g, 25, e, 26], [29, 29, 4, g, 6, y, 9, l, 14, g, 19, l, 20, g, 25, e, 27],
    [30, 30, 2, e, 4, g, 5, l, 10, g, 11, l, 14, g, 24, e, 27], [31, 31, 2, e, 5, g, 11, l, 13, g, 22, e, 27], [32, 32, 1, e, 5, g, 21, e, 27], [33, 33, 1, e, 6, g, 11, e, 12, g, 13, e, 14, g, 17, e, 18, l, 20, e, 27], [34, 34, 1, e, 8, g, 11, _, 14, e, 18, g, 19, e, 26],
    [35, 35, 2, e, 11, _, 19, e, 25], [36, 36, 2, e, 10, _, 21, e, 24], [37, 37, 3, e, 10], [38, 38, 4, e, 8]];

const linhas15 = [[0, 0, 30.1, E, 104.3], [1, 1, 23.3, M, 25, e, 30.1, G, 93.7, e, 96.8, m, 104.3], [2, 2, 23.3, E, 25, G, 93.7, e, 96.8], [3, 3, 20.1, m, 23.3, G, 25, g, 93.7, G, 95.6, E, 96.8], [4, 4, 20.1, E, 23.3, G, 25, g, 93.7, G, 95.6, E, 96.8],
    [5, 5, 20.1, E, 23.3, G, 25, l, 93.7, g, 95.6, G, 96.8, m, 106], [6, 6, 20.1, e, 23.3, g, 25, l, 93.7, g, 95.6, G, 96.8, E, 106], [7, 7, 18.5, C, 20.1, e, 23.3, g, 25, y, 93.7, l, 95.6, g, 96.8, e, 100, E, 106], [8, 8, 18.5, M, 20.1, G, 23.3, g, 25, y, 26.5, a, 93.7, y, 95, l, 96, G, 99.8, E, 106],
    [9, 12, 18.5, E, 20.1, G, 23.3, g, 25, y, 27.7, a, 94.5, y, 95.6, l, 96.8, g, 99, G, 100, E, 106], [13, 13, 18.5, E, 23.3, g, 25, l, 26, y, 94.5, l, 96.8, g, 99.8, E, 106], [14, 14, 18.5, E, 23.3, g, 25, l, 26.5, y, 27.7, a, 95, y, 99, g, 100.6, e, 106, M, 109],
    [15, 15, 12.1, B, 18.5, E, 23.3, g, 25, l, 26.5, y, 27.7, a, 95, y, 99, g, 100.6, e, 109], [16, 16, 12.1, M, 18.5, e, 23.3, l, 26, y, 27.7, a, 95, y, 98.5, g, 100.6, e, 109], [17, 17, 12.1, E, 18.5, G, 23, l, 25, y, 27.7, a, 96, y, 98, l, 100.6, e, 109],
    [18, 18, 12.1, E, 18.5, g, 23.5, y, 25.5, a, 27.7, o, 94.5, a, 97, y, 99, g, 100.6, e, 109], [19, 19, 12.1, e, 13.7, G, 16.9, l, 19, y, 22, a, 24, o, 95, a, 97, y, 99, l, 100.6, e, 109], [20, 20, 12.1, e, 13.7, G, 18, a, 20, y, 21.5, a, 23, o, 26, R, 93, o, 98, y, 99.5, g, 101, E, 109],
    [21, 21, 12.1, E, 13.7, G, 16.9, l, 18, y, 20, a, 22, o, 23.5, R, 26.5, r, 92.5, R, 96, o, 99, y, 100, g, 101, e, 109], [22, 22, 12.1, E, 13.7, G, 16, l, 18, y, 19.5, a, 21, o, 23, R, 26, r, 93, R, 97.7, o, 99, y, 100, g, 101, e, 109, C, 113.9],
    [23, 23, 12.1, E, 13.7, G, 16, l, 17, y, 19, a, 20, o, 22, R, 25.7, r, 94, R, 96.5, o, 99.8, y, 100.5, g, 102, E, 109, m, 113.9], [24, 24, 12.1, m, 13.7, G, 17, y, 19, a, 20, o, 21.5, R, 25.7, r, 94.5, R, 96.5, o, 99.8, y, 101, g, 102, E, 113.9],
    [25, 26, 13.7, E, 15.3, G, 17, y, 19, a, 20, o, 22, R, 26, r, 93.5, R, 96, o, 99.8, y, 101, g, 103, e, 113.9], [27, 27, 13.7, e, 15.3, G, 17, l, 19, y, 21, o, 23, R, 26.5, r, 93, R, 96, o, 99.8, y, 101, g, 103, e, 113.9],
    [28, 28, 13.7, C, 15.3, E, 17, l, 19.5, y, 20, a, 21, o, 23.5, R, 27, r, 93.5, R, 96, o, 100, y, 101.5, l, 103, e, 113.9], [29, 29, 15.3, E, 16.9, g, 20, y, 21, a, 22, o, 24, R, 27, r, 93.5, R, 97, o, 100, y, 102, l, 103, g, 112, G, 113],
    [30, 30, 12.1, C, 15.3, e, 17, g, 20, l, 21, y, 22.5, o, 24, R, 27, r, 94, R, 96, o, 100, y, 102.5, l, 107, g, 112, e, 113], [31, 31, 12.1, M, 15, e, 16, g, 19, l, 21, y, 22, a, 23, o, 24, R, 27, r, 94.5, R, 96, o, 101, y, 103, l, 107, g, 112, e, 113],
    [32, 32, 10, m, 12, E, 15.3, G, 18, l, 20, y, 22, a, 23.5, R, 25, r, 95, R, 96, o, 101, y, 103, l, 107, G, 112, E, 113], [33, 34, 10, E, 12, G, 15, g, 18, y, 22, a, 23, o, 24.5, r, 95.5, R, 96, o, 101, a, 102, y, 103, l, 107, g, 112, e, 113],
    [35, 35, 10, E, 12, g, 18, a, 22, o, 23, R, 24, r, 94, R, 96, o, 100, a, 101, y, 103, l, 107, G, 112, e, 113], [36, 36, 10, E, 12, g, 15, l, 16, y, 18, a, 22, o, 23, R, 24, r, 93.5, R, 95, o, 100, y, 104, l, 105, g, 107, G, 112, e, 113],
    [37, 37, 10, E, 12, l, 15, y, 18, o, 23, R, 24, r, 93, R, 95, a, 100, y, 102, l, 105, g, 107, e, 113], [38, 38, 10, E, 12, l, 15, y, 18, o, 23, R, 24, r, 92, R, 93.5, o, 95.5, y, 100, l, 102, g, 105, E, 112, m, 113],
    [39, 39, 10, E, 12, l, 15, y, 18, o, 23, R, 30, r, 89.4, R, 93, o, 94, a, 95.5, y, 97, l, 102, G, 105, e, 106, M, 109], [40, 40, 10, G, 12, g, 15, l, 18, a, 23, o, 25, R, 89.4, o, 92.5, a, 94, y, 96.5, l, 100, G, 105, e, 109],
    [41, 41, 10, C, 12, g, 15, l, 18, a, 22, o, 25.5, R, 89, o, 93, a, 94, y, 100, g, 105, e, 109], [42, 42, 12, e, 13, g, 15, l, 18, y, 21, a, 23, o, 93, a, 94, y, 100, g, 105, e, 109], [43, 43, 12, e, 13, G, 15, g, 18, y, 22, a, 23, o, 93, a, 94, y, 100, g, 105, e, 109],
    [44, 44, 12, e, 16, G, 19, g, 20, y, 27.7, a, 92, l, 95, G, 105, e, 109], [45, 45, 12, m, 13, E, 21, l, 23, y, 30, a, 89.4, y, 92, l, 95, G, 105, e, 109], [46, 46, 12, B, 13, M, 23, G, 25, g, 27, l, 30, y, 92, l, 95, G, 105, e, 109], [47, 47, 23, E, 25.3, G, 27.5, g, 30, l, 92, g, 95, G, 105, e, 109],
    [48, 48, 23, E, 25.3, G, 27.5, l, 92, g, 95, e, 106, M, 109], [49, 49, 23, E, 25.3, G, 27.7, g, 92.2, G, 95, E, 106], [50, 50, 23, C, 25.3, E, 27, G, 95.6, M, 104.7], [51, 52, 25.4, E, 95.6], [53, 53, 25.4, c, 95.6]];

const linhas16 = [[0, 0, 30.1, c, 104.4], [1, 2, 30.1, M, 104.4], [3, 5, 30.1, c, 104.4], [6, 6, 30.1, b, 104.4], [11, 11, 20.1, C, 25, c, 93.7, C, 95.4], [12, 12, 20.1, c, 23.3, m, 93.7, c, 95.4, C, 96.7], [13, 13, 20.1, c, 23.3, m, 25, E, 93.7, m, 95.4, c, 96.7],
    [14, 16, 20.1, M, 23.3, E, 25, e, 93.7, E, 95.4, m, 96.7], [17, 17, 20.1, c, 23.3, E, 25, G, 93.7, e, 95.4, E, 96.7, C, 98.7], [18, 18, 20.1, c, 23.3, E, 25, G, 93.7, e, 95.4, E, 98, m, 100, C, 106], [19, 19, 20.1, M, 23.3, E, 25, G, 27.8, g, 93.7, G, 95.5, E, 98, m, 100, c, 106],
    [20, 20, 18.6, c, 20.1, M, 23.3, E, 25, G, 27.8, g, 93.7, G, 95.5, E, 98, m, 100, c, 106], [21, 21, 18.6, c, 23.3, E, 25, e, 26, G, 93.7, g, 95, e, 98, M, 106], [22, 22, 18.6, c, 23, m, 25, e, 26, G, 94, e, 98, m, 106], [23, 23, 12.1, B, 13.3, c, 16.5, m, 18.6, E, 25, G, 28, l, 93, G, 96, e, 99, E, 102, m, 105, b, 109],
    [24, 24, 10, C, 12, M, 13, E, 17, G, 18, g, 23, y, 27.8, a, 91.9, y, 94, g, 97, E, 105, m, 107, b, 113.9], [25, 25, 10, c, 12, E, 13, e, 16, G, 17, l, 19, y, 23, a, 25, o, 93, a, 95, y, 99, l, 101, e, 105, m, 113.9], [26, 26, 10, c, 12, e, 15, G, 17, y, 21, a, 23, o, 25, R, 32, r, 89, R, 93, o, 96, a, 99, y, 101, l, 104, e, 109, E, 113, C, 113.9],
    [27, 27, 10, c, 12, G, 15, g, 17, y, 19, a, 22, o, 24, R, 26.5, r, 93, R, 95, o, 98, a, 100, y, 102, l, 105, G, 108, E, 113, m, 113.9], [28, 30, 10, m, 12, G, 13, g, 17, l, 19, a, 24, R, 26, r, 93.5, R, 96, o, 99.5, a, 101, y, 103, l, 105, G, 108, E, 113, m, 113.9],
    [31, 31, 10, c, 12, G, 15, g, 17, l, 19, y, 21, a, 23, R, 26, r, 93.5, R, 96, o, 99, a, 100, y, 102, l, 104, g, 107, e, 109, E, 113], [32, 32, 10, c, 12, e, 14, G, 17, y, 20, a, 22, o, 24, R, 26, r, 92.5, R, 95, o, 98, a, 100, y, 102, l, 104, g, 107, E, 113],
    [33, 33, 10, B, 12, E, 18, g, 20, y, 23, o, 26, R, 93, o, 97, y, 100, l, 101, g, 103, E, 113, c, 113.5], [34, 34, 12, m, 14, e, 20, l, 22, y, 25, a, 28, o, 91, a, 95, y, 98, g, 100, e, 105, m, 112, C, 113], [35, 35, 12, c, 14, m, 17, e, 19, E, 21, G, 22, l, 25, y, 95, g, 97, m, 103, c, 107],
    [36, 36, 12, b, 18.6, c, 23, m, 25.5, e, 95.5, m, 98, C, 100, b, 107], [37, 37, 25.5, B, 26, C, 95.4, d, 99.6]];

const todasLinhas = [linhas1, linhas2, linhas3, linhas4, linhas5, linhas6, linhas7, linhas8, linhas9, linhas10, linhas11, linhas12, linhas13, linhas14, linhas15, linhas16];

const exp10 = { "-1": "\u207B\u00B9", "2": "\u00B2", "3": "\u00B3", "4": "\u2074" };

// moldura em volta da area do grafico
const moldura = {
    id: "moldura",
    afterDraw(chart) {
        const area = chart.chartArea;
        chart.ctx.save();
        chart.ctx.strokeStyle = "#000";
        chart.ctx.lineWidth = 1.4;
        chart.ctx.strokeRect(area.left, area.top, area.width, area.height);
        chart.ctx.restore();
    }
};

function textoTick(v) {
    return String(v).replace("-", "\u2212");
}

// transforma as linhas do histograma em barras flutuantes
function montaBarras(linhas, ori, xMin, passoX) {
    const dados = [];
    const cores = [];
    for (const linha of linhas) {
        for (let k = linha[0]; k <= linha[1]; k++) {
            const yCentro = 3 - (ori[1] + k + 0.5) * 0.05;
            for (let i = 2; i + 2 < linha.length; i += 2) {
                if (linha[i + 1] == _) continue;
                dados.push({
                    x: [xMin + (ori[0] + linha[i]) * passoX, xMin + (ori[0] + linha[i + 2]) * passoX],
                    y: yCentro
                });
                cores.push(paleta[linha[i + 1]]);
            }
        }
    }
    return { dados, cores };
}

function eixoComTicks(lista) {
    return function (escala) {
        escala.ticks = lista.map(v => ({ value: v }));
    };
}

// tamanho fixo do eixo, sem a folga que o layout reserva para os rotulos
function tamanhoFixo(campo, valor) {
    return function (escala) {
        escala[campo] = valor;
        escala.paddingTop = 0;
        escala.paddingBottom = 0;
        escala.paddingLeft = 0;
        escala.paddingRight = 0;
    };
}

function criaPainel(i) {
    const linha = Math.floor(i / 4);
    const coluna = i % 4;
    const rapidez = coluna >= 2;

    const painel = document.createElement("div");
    painel.className = "painel";
    painel.style.left = [0, 827, 1653, 2480][coluna] + "px";
    painel.style.top = [0, 797, 1593, 2390][linha] + "px";
    document.body.appendChild(painel);

    const canvas = document.createElement("canvas");
    canvas.width = 770;
    canvas.height = 720;
    painel.appendChild(canvas);

    const barras = montaBarras(todasLinhas[i], origem[i], rapidez ? -15 : -3, rapidez ? 0.25 : 0.05);
    const fonteTick = { family: "Liberation Sans", size: 21 };
    const fonteTitulo = { family: "Liberation Sans", size: 21 };

    new Chart(canvas, {
        type: "bar",
        plugins: [moldura],
        data: {
            datasets: [{
                data: barras.dados,
                backgroundColor: barras.cores,
                borderWidth: 0,
                barThickness: 5.15,
                grouped: false
            }]
        },
        options: {
            indexAxis: "y",
            responsive: false,
            animation: false,
            events: [],
            layout: { autoPadding: false, padding: { top: 28, right: 43, left: 0, bottom: 0 } },
            plugins: { legend: { display: false }, tooltip: { enabled: false } },
            scales: {
                x: {
                    type: "linear",
                    position: "bottom",
                    weight: 1,
                    offset: false,
                    min: rapidez ? -15 : -3,
                    max: rapidez ? 15 : 3,
                    afterBuildTicks: eixoComTicks(rapidez ? ticksRap : ticksFm),
                    afterFit: tamanhoFixo("height", 74),
                    grid: { offset: false, drawOnChartArea: false, tickLength: -18, tickColor: "#000", tickWidth: 1.2 },
                    border: { display: false },
                    ticks: { color: "#000", font: fonteTick, padding: 25, maxRotation: 0, autoSkip: false, callback: textoTick },
                    title: { display: true, text: rapidez ? "rapidity" : "X [fm]", align: "end", color: "#000", font: fonteTitulo, padding: { top: 0, bottom: 7 } }
                },
                xMenor: {
                    type: "linear",
                    axis: "x",
                    position: "bottom",
                    weight: 0,
                    offset: false,
                    min: rapidez ? -15 : -3,
                    max: rapidez ? 15 : 3,
                    afterBuildTicks: eixoComTicks(rapidez ? ticksRapMenor : ticksFmMenor),
                    afterFit: tamanhoFixo("height", 0),
                    grid: { offset: false, drawOnChartArea: false, tickLength: -9, tickColor: "#000", tickWidth: 1.2 },
                    border: { display: false },
                    ticks: { display: false }
                },
                y: {
                    type: "linear",
                    position: "left",
                    weight: 1,
                    offset: false,
                    min: -3,
                    max: 3,
                    afterBuildTicks: eixoComTicks(ticksFm),
                    afterFit: tamanhoFixo("width", 93),
                    grid: { offset: false, drawOnChartArea: false, tickLength: -19, tickColor: "#000", tickWidth: 1.2 },
                    border: { display: false },
                    ticks: { color: "#000", font: fonteTick, padding: 24, autoSkip: false, callback: textoTick },
                    title: { display: true, text: rapidez ? "X [fm]" : "Y [fm]", align: "end", color: "#000", font: fonteTitulo, padding: { top: 20, bottom: 0 } }
                },
                yMenor: {
                    type: "linear",
                    axis: "y",
                    position: "left",
                    weight: 0,
                    offset: false,
                    min: -3,
                    max: 3,
                    afterBuildTicks: eixoComTicks(ticksFmMenor),
                    afterFit: tamanhoFixo("width", 0),
                    grid: { offset: false, drawOnChartArea: false, tickLength: -10, tickColor: "#000", tickWidth: 1.2 },
                    border: { display: false },
                    ticks: { display: false }
                }
            }
        }
    });

    criaPaleta(painel, i, fonteTick);

    const titulo = document.createElement("div");
    titulo.className = "titulo";
    titulo.innerHTML = nStrings[linha] + " strings, \u03C4<sub>transv</sub> = " + tauTransv[tauPainel[linha][coluna]] + " fm/c";
    painel.appendChild(titulo);
}

// barra de cor: 20 faixas empilhadas e um eixo log a direita
function criaPaleta(painel, i, fonteTick) {
    const canvas = document.createElement("canvas");
    canvas.className = "paleta";
    canvas.width = 107;
    canvas.height = 648;
    painel.appendChild(canvas);

    const ehDecada = v => Math.abs(Math.log10(v) - Math.round(Math.log10(v))) < 1e-6;

    new Chart(canvas, {
        type: "bar",
        data: {
            labels: ["z"],
            datasets: paleta.map(cor => ({ data: [1], backgroundColor: cor, borderWidth: 0, barPercentage: 1, categoryPercentage: 1, yAxisID: "yFaixa" }))
        },
        options: {
            responsive: false,
            animation: false,
            events: [],
            layout: { autoPadding: false, padding: { top: 15, bottom: 15, left: 0, right: 0 } },
            plugins: { legend: { display: false }, tooltip: { enabled: false } },
            scales: {
                x: { stacked: true, display: false },
                yFaixa: { axis: "y", stacked: true, display: false, min: 0, max: 20 },
                yMaior: {
                    type: "logarithmic",
                    axis: "y",
                    position: "right",
                    weight: 0,
                    min: zMin[i],
                    max: zMax[i],
                    afterBuildTicks(escala) { escala.ticks = escala.ticks.filter(t => ehDecada(t.value) && t.value >= zMin[i] * 0.999 && t.value <= zMax[i]); },
                    afterFit: tamanhoFixo("width", 0),
                    grid: { drawOnChartArea: false, tickLength: -19, tickColor: "#000", tickWidth: 1.2 },
                    border: { display: false },
                    ticks: { display: false, autoSkip: false }
                },
                yLog: {
                    type: "logarithmic",
                    axis: "y",
                    position: "right",
                    weight: 1,
                    min: zMin[i],
                    max: zMax[i],
                    afterBuildTicks(escala) {
                        escala.ticks = escala.ticks.filter(t => {
                            const d10 = Math.pow(10, Math.floor(Math.log10(t.value) + 1e-9));
                            const m10 = t.value / d10;
                            return Math.abs(m10 - Math.round(m10)) < 1e-6 && t.value >= zMin[i] * 0.999;
                        });
                    },
                    afterFit: tamanhoFixo("width", 70),
                    grid: { drawOnChartArea: false, tickLength: -10, tickColor: "#000", tickWidth: 1.2 },
                    border: { display: false },
                    ticks: {
                        color: "#000",
                        font: fonteTick,
                        padding: 19,
                        autoSkip: false,
                        callback(v) {
                            if (!ehDecada(v)) return "";
                            const ex = Math.round(Math.log10(v));
                            if (ex == 0) return "1";
                            if (ex == 1) return "10";
                            return "10" + exp10[ex];
                        }
                    }
                }
            }
        }
    });
}

for (let i = 0; i < 16; i++) {
    criaPainel(i);
}
</script>
</body>
</html>
